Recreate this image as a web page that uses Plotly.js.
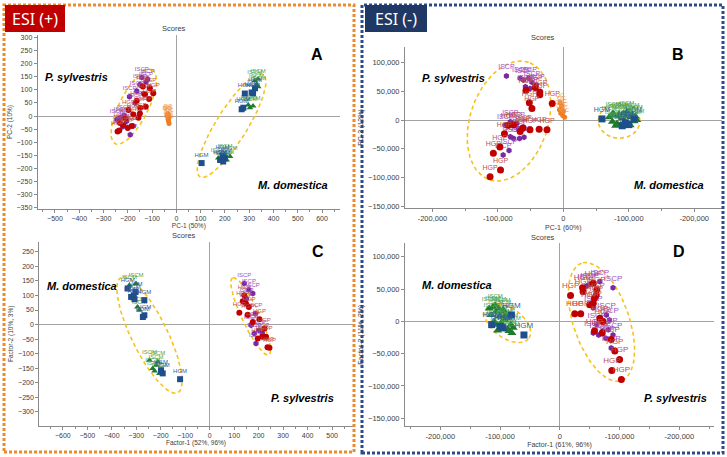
<!DOCTYPE html>
<html><head><meta charset="utf-8">
<script src="https://cdn.plot.ly/plotly-3.0.1.min.js"></script>
<style>html,body{margin:0;padding:0;background:#fff;}#chart{width:727px;height:457px;}</style>
</head><body><div id="chart"></div>
<script>
// ---------- DATA ----------
// Panel A : ESI(+) PCA scores
const A_HGP_x = [-138,-129,-163,-197,-149,-126,-177,-232,-242,-156,-184,-112,-95,-109,-150,-210,-200,-219,-235];
const A_HGP_y = [113,83,58,23,32,36,6,-26,-59,-6,-38,65,87,106,10,-10,-45,-34,-55];
const A_ISCP_x = [-142,-163,-193,-215,-221,-190,-177,-245,-125,-150,-205,-170,-230,-118,-135];
const A_ISCP_y = [147,96,74,3,-41,-71,-38,-13,130,120,-20,50,-5,140,85];
const A_QC_x = [-35,-33,-38,-30,-34,-32,-30,-36];
const A_QC_y = [10,5,0,-5,-12,-20,-28,3];
const A_HGM_x = [104,180,200,282,316,324,269,276,310,193,190];
const A_HGM_y = [-179,-167,-161,86,87,106,26,32,90,-173,-150];
const A_ISCM_x = [337,296,303,316,323,337,207,221,200,173,186,330];
const A_ISCM_y = [112,42,32,38,135,141,-167,-154,-147,-160,-173,120];
// Panel B : ESI(-) PCA scores
const B_HGP_x = [-57000,-43000,-36000,-36000,-52000,-48000,-17000,-84000,-76000,-51000,-37000,-25000,-90000,-97000,-107000,-96000,-112000,-66000,-62000];
const B_HGP_y = [52000,57000,49000,44000,30000,20000,29000,-9000,-8000,-17000,-16000,-17000,-24000,-47000,-58000,-87000,-99000,-20000,-14000];
const B_ISCP_x = [-87000,-66000,-61000,-53000,-48000,-58000,-51000,-41000,-89000,-81000,-71000,-61000,-69000,-81000,-76000,-67000,-60000,-83000,-92000];
const B_ISCP_y = [77000,73000,70000,73000,66000,58000,55000,61000,-9000,-3000,-6000,-12000,-15000,-29000,-32000,-32000,-30000,-53000,-61000];
const B_QC_x = [-5000,-3000,-2000,0,-4000,-1000,2000,-6000];
const B_QC_y = [30000,25000,20000,15000,12000,8000,5000,18000];
const B_HGM_x = [59000,90000,100000,95000,108000];
const B_HGM_y = [2000,-10000,-8000,-5000,2000];
const B_ISCM_x = [70000,75000,78000,82000,85000,88000,90000,92000,95000,98000,100000,103000,105000,108000,110000,112000,80000,86000,94000,102000,97000,76000];
const B_ISCM_y = [5000,-3000,8000,-6000,10000,-8000,3000,12000,-4000,7000,-7000,5000,10000,-2000,6000,0,-10000,6000,-10000,-9000,14000,12000];
// Panel C : ESI(+) factor scores
const C_HGM_x = [-321,-307,-267,-267,-273,-303,-335,-121,-192,-199,-310];
const C_HGM_y = [95,87,84,32,26,112,124,-188,-168,-157,100];
const C_ISCM_x = [-287,-328,-301,-219,-205,-233,-212,-246,-225,-295];
const C_ISCM_y = [49,135,141,-140,-168,-151,-128,-123,-160,60];
const C_HGP_x = [141,148,121,155,203,176,223,215,230,244,196,160,135,236];
const C_HGP_y = [101,72,41,34,18,9,-14,-42,-42,-80,-48,60,80,-78];
const C_ISCP_x = [141,176,186,169,182,189,160,200,215,150,170];
const C_ISCP_y = [141,107,38,-2,-31,-65,120,-20,-30,90,0];
// Panel D : ESI(-) factor scores
const D_HGP_x = [18000,25000,35000,38000,39000,50000,56000,61000,62000,58000,56000,67000,72000,71000,58000,86000,92000,100000,87000,103000];
const D_HGP_y = [40000,12000,12000,52000,46000,26000,28000,41000,49000,36000,59000,5000,0,-18000,-15000,-28000,-46000,-59000,-76000,-90000];
const D_ISCP_x = [89000,56000,65000,77000,81000,72000,86000,89000,50000,67000,56000,78000,62000,45000,83000];
const D_ISCP_y = [52000,-18000,-21000,-26000,-13000,-15000,-41000,-21000,57000,62000,21000,10000,-5000,55000,2000];
const D_HGM_x = [-60000,-100000,-114000,-81000,-95000];
const D_HGM_y = [-21000,-8000,-5000,10000,-10000];
const D_ISCM_x = [-118000,-115000,-112000,-110000,-107000,-105000,-102000,-100000,-97000,-95000,-92000,-90000,-87000,-85000,-82000,-80000,-108000,-98000,-88000,-112000,-104000,-94000,-78000];
const D_ISCM_y = [20000,10000,22000,0,15000,-5000,20000,8000,-8000,18000,2000,10000,-12000,-15000,-5000,-18000,25000,-2000,5000,-3000,-14000,15000,-10000];

// Confidence ellipses: [centerX, centerY, tipX, tipY, minor/major ratio]
const ELL_A_P = [-175.5, 35.4, -98.4, 176, 0.35];
const ELL_A_M = [227, -36.6, 357.8, 157.7, 0.26];
const ELL_B_P = [-83000, -1700, -53100, 100700, 0.63];
const ELL_B_M = [85300, -1400, 117100, -1400, 0.84];
const ELL_C_M = [-246, -36, -361.6, 162.4, 0.28];
const ELL_C_P = [167.5, 28, 93.5, 160.6, 0.21];
const ELL_D_M = [-87000, -2800, -51400, -25900, 0.58];
const ELL_D_P = [69700, -800, 36300, 90200, 0.45];

// Tick labels for the ESI(-) horizontal axes
const B_xtickvals = [-200000,-100000,0,100000,200000];
const B_xticktext = ['-200,000','-100,000','0','-100,000','-200,000'];

// ---------- LAYOUT GEOMETRY ----------
const W = 727, H = 457;
const FONT = 'Arial, "Liberation Sans", sans-serif';
function px2dx(a,b){return [a/W, b/W];}
function px2dy(top,bot){return [1-bot/H, 1-top/H];}
const P = {
  A:{dx:px2dx(37.7,340), dy:px2dy(35,209), rx:[-571,674], ry:[-354,309]},
  B:{dx:px2dx(405,721.7), dy:px2dy(46.7,208.3), rx:[-242000,242000], ry:[-154000,128000]},
  C:{dx:px2dx(39.3,352.7), dy:px2dy(241.7,426), rx:[-696,584], ry:[-349,285]},
  D:{dx:px2dx(405,714), dy:px2dy(243.3,426), rx:[-259000,258000], ry:[-162000,121000]}
};
const COL = {
  HGP:'#c00000', ISCP:'#7a2aa0', HGM:'#1f4e8c', ISCM:'#1e7b2e', QC:'#f07d24',
  tHGP:'#c0504d', tISCP:'#a04fc0', tHGM:'#2f5f9f', tISCM:'#4fa64f', tQC:'#f39a4a'
};

const traces = [];
function pts(xs, ys, name, sym, size, fs, xa, ya){
  traces.push({
    type:'scatter', mode:'markers+text', x:xs, y:ys, xaxis:xa, yaxis:ya,
    text: xs.map(()=>name), textposition:'top center',
    textfont:{size:fs, color:COL['t'+name], family:FONT},
    marker:{symbol:sym, size:size, color:COL[name], line:{width:0}},
    hoverinfo:'x+y+text', showlegend:false, cliponaxis:false
  });
}
function ellipse(e, key, xa, ya){
  const p = P[key];
  const kx = (p.dx[1]-p.dx[0])*W/(p.rx[1]-p.rx[0]);
  const ky = (p.dy[1]-p.dy[0])*H/(p.ry[1]-p.ry[0]);
  const ux = (e[2]-e[0])*kx, uy = (e[3]-e[1])*ky;
  const vx = -uy*e[4], vy = ux*e[4];
  const xs=[], ys=[];
  for(let i=0;i<=96;i++){
    const t = i/96*2*Math.PI;
    xs.push(e[0] + (Math.cos(t)*ux + Math.sin(t)*vx)/kx);
    ys.push(e[1] + (Math.cos(t)*uy + Math.sin(t)*vy)/ky);
  }
  traces.push({type:'scatter', mode:'lines', x:xs, y:ys, xaxis:xa, yaxis:ya,
    line:{color:'#f7c21a', width:1.6, dash:'4px,3px'}, hoverinfo:'skip', showlegend:false});
}

// Panel A
ellipse(ELL_A_P,'A','x','y'); ellipse(ELL_A_M,'A','x','y');
pts(A_ISCP_x,A_ISCP_y,'ISCP','hexagon',6,6,'x','y');
pts(A_HGP_x,A_HGP_y,'HGP','circle',6,6,'x','y');
pts(A_QC_x,A_QC_y,'QC','circle',5,6,'x','y');
pts(A_ISCM_x,A_ISCM_y,'ISCM','triangle-up',6,6,'x','y');
pts(A_HGM_x,A_HGM_y,'HGM','square',6,6,'x','y');
// Panel B
ellipse(ELL_B_P,'B','x2','y2'); ellipse(ELL_B_M,'B','x2','y2');
pts(B_ISCP_x,B_ISCP_y,'ISCP','hexagon',6,7,'x2','y2');
pts(B_HGP_x,B_HGP_y,'HGP','circle',7,7,'x2','y2');
pts(B_QC_x,B_QC_y,'QC','circle',5,6,'x2','y2');
pts(B_ISCM_x,B_ISCM_y,'ISCM','triangle-up',8,6,'x2','y2');
pts(B_HGM_x,B_HGM_y,'HGM','square',7,7,'x2','y2');
// Panel C
ellipse(ELL_C_M,'C','x3','y3'); ellipse(ELL_C_P,'C','x3','y3');
pts(C_ISCP_x,C_ISCP_y,'ISCP','hexagon',6,6,'x3','y3');
pts(C_HGP_x,C_HGP_y,'HGP','circle',6,6,'x3','y3');
pts(C_ISCM_x,C_ISCM_y,'ISCM','triangle-up',6,6,'x3','y3');
pts(C_HGM_x,C_HGM_y,'HGM','square',6,6,'x3','y3');
// Panel D
ellipse(ELL_D_M,'D','x4','y4'); ellipse(ELL_D_P,'D','x4','y4');
pts(D_ISCP_x,D_ISCP_y,'ISCP','hexagon',6,8,'x4','y4');
pts(D_HGP_x,D_HGP_y,'HGP','circle',7,8,'x4','y4');
pts(D_ISCM_x,D_ISCM_y,'ISCM','triangle-up',8,6,'x4','y4');
pts(D_HGM_x,D_HGM_y,'HGM','square',7,8,'x4','y4');

function axis(key, which, anchor, opts){
  const p = P[key];
  const o = {
    domain: which==='x'?p.dx:p.dy, range: which==='x'?p.rx:p.ry, anchor:anchor,
    showline:true, linecolor:'#8a8a8a', linewidth:1, ticks:'outside', ticklen:3, tickcolor:'#8a8a8a',
    showgrid:false, zeroline:true, zerolinecolor:'#a3a3a3', zerolinewidth:1,
    tickfont:{size:opts.fs, color:'#404040', family:FONT},
    title:{text:opts.title, font:{size:opts.tfs, color:'#404040', family:FONT}, standoff:opts.standoff},
    fixedrange:true
  };
  return Object.assign(o, opts.extra||{});
}
const layout = {
  width:W, height:H, margin:{l:0,r:0,t:0,b:0}, paper_bgcolor:'#fff', plot_bgcolor:'#fff',
  showlegend:false, font:{family:FONT},
  xaxis: axis('A','x','y',{fs:7,tfs:6.5,title:'PC-1 (50%)',standoff:2,extra:{tick0:0,dtick:100,minor:{dtick:50,ticklen:2,ticks:'outside',tickcolor:'#8a8a8a'}}}),
  yaxis: axis('A','y','x',{fs:7,tfs:6.5,title:'PC-2 (10%)',standoff:3,extra:{tick0:0,dtick:50}}),
  xaxis2: axis('B','x','y2',{fs:7.5,tfs:7,title:'PC-1 (60%)',standoff:2,extra:{tickvals:B_xtickvals,ticktext:B_xticktext,minor:{dtick:50000,ticklen:2,ticks:'outside',tickcolor:'#8a8a8a'}}}),
  yaxis2: axis('B','y','x2',{fs:7.5,tfs:7,title:'PC-2 (12%)',standoff:3,extra:{tick0:0,dtick:50000,tickformat:','}}),
  xaxis3: axis('C','x','y3',{fs:7,tfs:6.5,title:'Factor-1 (52%, 96%)',standoff:2,extra:{tick0:0,dtick:100,minor:{dtick:50,ticklen:2,ticks:'outside',tickcolor:'#8a8a8a'}}}),
  yaxis3: axis('C','y','x3',{fs:7,tfs:6.5,title:'Factor-2 (10%, 3%)',standoff:3,extra:{tick0:0,dtick:50}}),
  xaxis4: axis('D','x','y4',{fs:7.5,tfs:7,title:'Factor-1 (61%, 96%)',standoff:2,extra:{tickvals:B_xtickvals,ticktext:B_xticktext,minor:{dtick:50000,ticklen:2,ticks:'outside',tickcolor:'#8a8a8a'}}}),
  yaxis4: axis('D','y','x4',{fs:7.5,tfs:7,title:'Factor-2 (11%, 2%)',standoff:3,extra:{tick0:0,dtick:50000,tickformat:','}}),
  shapes:[
    {type:'rect', xref:'paper', yref:'paper', x0:4/W, x1:354/W, y0:1-452/H, y1:1-5/H, line:{color:'#ef8a2c', width:3, dash:'3px,2px'}},
    {type:'rect', xref:'paper', yref:'paper', x0:362/W, x1:723/W, y0:1-453/H, y1:1-5/H, line:{color:'#2c4b8a', width:3, dash:'3px,2px'}},
    {type:'rect', xref:'paper', yref:'paper', x0:5/W, x1:65/W, y0:1-32/H, y1:1-5/H, fillcolor:'#c00000', line:{width:0}},
    {type:'rect', xref:'paper', yref:'paper', x0:365/W, x1:427/W, y0:1-32/H, y1:1-5/H, fillcolor:'#1f3864', line:{width:0}}
  ],
  annotations:[]
};
function ann(text, xp, yp, size, opts){
  layout.annotations.push(Object.assign({text:text, xref:'paper', yref:'paper', x:xp/W, y:1-yp/H,
    xanchor:'center', yanchor:'middle', showarrow:false, font:{size:size, color:'#000', family:FONT}}, opts||{}));
}
ann('ESI (+)', 35, 18.5, 16, {font:{size:16, color:'#fff', family:'"Noto Sans", "Open Sans", sans-serif'}});
ann('ESI (-)', 396, 18.5, 16, {font:{size:16, color:'#fff', family:'"Noto Sans", "Open Sans", sans-serif'}});
ann('Scores', 174, 28.7, 7.5, {font:{size:7.5,color:'#404040',family:FONT}});
ann('Scores', 543, 37.3, 7.5, {font:{size:7.5,color:'#404040',family:FONT}});
ann('Scores', 184, 235.7, 7.5, {font:{size:7.5,color:'#404040',family:FONT}});
ann('Scores', 543, 237.7, 7.5, {font:{size:7.5,color:'#404040',family:FONT}});
ann('<b>A</b>', 317, 55, 16); ann('<b>B</b>', 678, 55, 16);
ann('<b>C</b>', 318, 251.7, 16); ann('<b>D</b>', 679, 251, 16);
ann('<b><i>P. sylvestris</i></b>', 76, 77, 11);
ann('<b><i>M. domestica</i></b>', 293, 185, 11);
ann('<b><i>P. sylvestris</i></b>', 453, 78, 11);
ann('<b><i>M. domestica</i></b>', 669, 185, 11);
ann('<b><i>M. domestica</i></b>', 82, 285.7, 11);
ann('<b><i>P. sylvestris</i></b>', 302, 397.7, 11);
ann('<b><i>M. domestica</i></b>', 457, 285, 11);
ann('<b><i>P. sylvestris</i></b>', 675, 397.7, 11);

Plotly.newPlot('chart', traces, layout, {displayModeBar:false, staticPlot:true});
</script></body></html>
